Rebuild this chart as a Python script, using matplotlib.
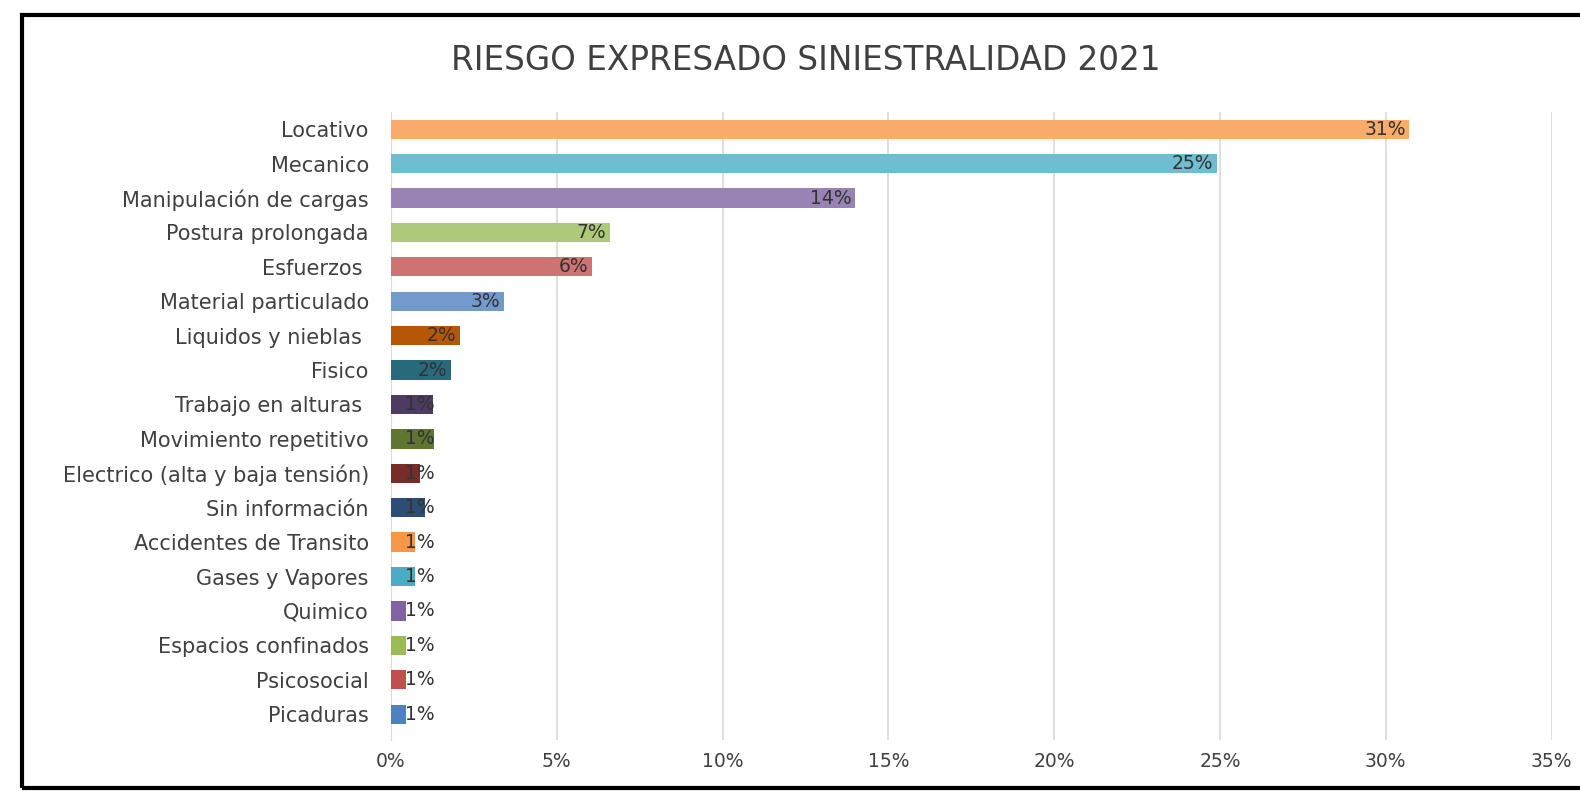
import matplotlib.pyplot as plt
from matplotlib.patches import Rectangle
from matplotlib.ticker import FuncFormatter

# datos (de abajo hacia arriba)
riesgos = ["Picaduras", "Psicosocial", "Espacios confinados", "Quimico",
           "Gases y Vapores", "Accidentes de Transito", "Sin información",
           "Electrico (alta y baja tensión)", "Movimiento repetitivo",
           "Trabajo en alturas ", "Fisico", "Liquidos y nieblas ",
           "Material particulado", "Esfuerzos ", "Postura prolongada",
           "Manipulación de cargas", "Mecanico", "Locativo"]
porcentajes = [0.45, 0.45, 0.45, 0.45, 0.73, 0.73, 1.03, 0.88, 1.3,
               1.27, 1.81, 2.07, 3.4, 6.06, 6.6, 14.0, 24.9, 30.7]
etiquetas = ["1%"] * 10 + ["2%", "2%", "3%", "6%", "7%", "14%", "25%", "31%"]
colores = ["#4F81BD", "#C0504D", "#9BBB59", "#8064A2", "#4BACC6", "#F79646",
           "#2C4D75", "#772C2A", "#5F7530", "#4D3B62", "#276A7C", "#B65708",
           "#729ACA", "#CD7371", "#AFC97A", "#9983B5", "#6FBDD1", "#F9AB6B"]

fig = plt.figure(figsize=(15.8, 7.92), dpi=100)
ax = fig.add_axes([0.2475, 0.0657, 0.982 - 0.2475, 0.8586 - 0.0657])

pos = range(len(riesgos))
ax.barh(pos, porcentajes, height=0.56, color=colores, zorder=3)

# etiquetas de datos (extremo interno, minimo para las barras cortas)
for i, (v, t) in enumerate(zip(porcentajes, etiquetas)):
    ax.text(max(v, 1.4) - 0.1, i, t, ha="right", va="center",
            fontsize=13.5, color="#333333", zorder=4)

ax.set_xlim(0, 35)
ax.set_ylim(-0.75, 17.5)
ax.set_xticks(range(0, 36, 5))
ax.xaxis.set_major_formatter(FuncFormatter(lambda x, p: f"{int(x)}%"))
ax.set_yticks(list(pos))
ax.set_yticklabels(riesgos)
ax.tick_params(axis="y", length=0, pad=16, labelsize=15, labelcolor="#404040")
ax.tick_params(axis="x", length=0, pad=9, labelsize=13.5, labelcolor="#404040")
ax.grid(axis="x", color="#d9d9d9", linewidth=1.2, zorder=0)
for s in ["top", "right", "bottom"]:
    ax.spines[s].set_visible(False)
ax.spines["left"].set_color("#d9d9d9")

fig.text(0.51, 0.923, "RIESGO EXPRESADO SINIESTRALIDAD 2021",
         ha="center", va="center", fontsize=23.5, color="#404040")

# marco negro
fig.patches.append(Rectangle((22 / 1580, 4 / 792), 1.05, 773 / 792,
                             transform=fig.transFigure, fill=False,
                             edgecolor="black", linewidth=3))

plt.savefig("out.png", dpi=100)
